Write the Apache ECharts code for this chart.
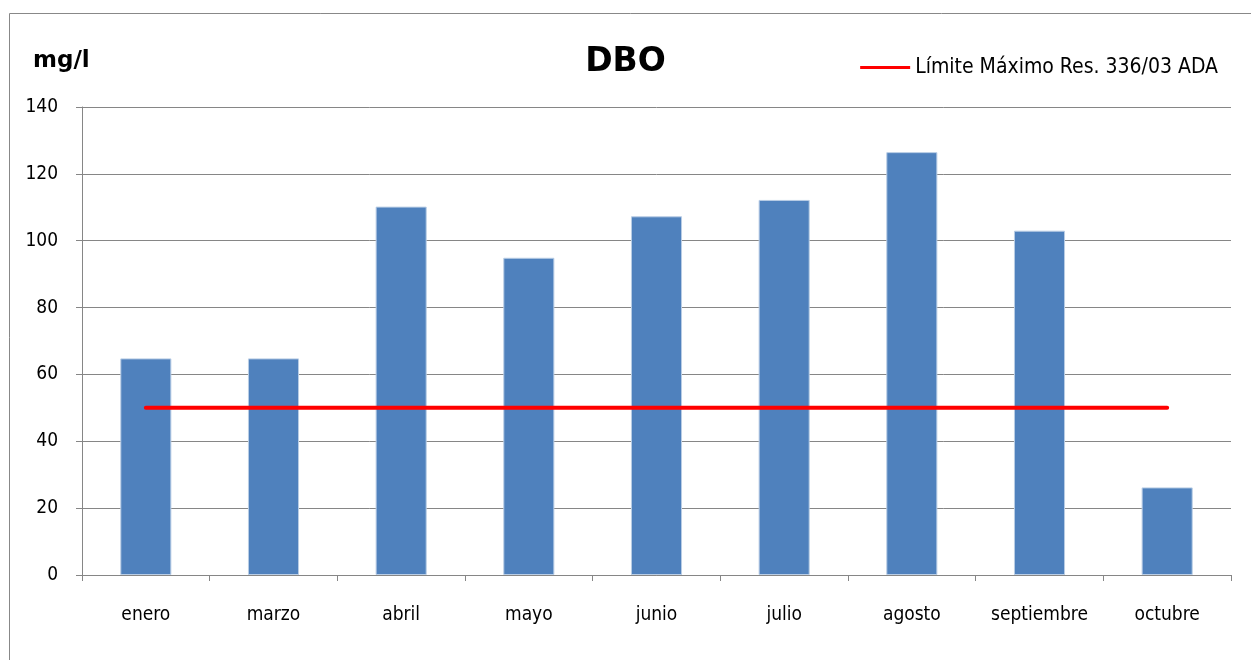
<!DOCTYPE html>
<html>
<head>
<meta charset="utf-8">
<script src="https://cdn.jsdelivr.net/npm/echarts@6/dist/echarts.min.js"></script>
<style>
  html, body { margin: 0; padding: 0; background: #fff; }
  #chart-container { width: 1251px; height: 660px; }
</style>
</head>
<body>
<div id="chart-container"></div>
<script>
// months and DBO values (mg/l)
var months = ['enero', 'marzo', 'abril', 'mayo', 'junio', 'julio', 'agosto', 'septiembre', 'octubre'];
var dboValues = [64.8, 64.8, 110.2, 94.9, 107.3, 112.2, 126.5, 103, 26.2];
// max limit Res. 336/03 ADA
var limitValues = [50, 50, 50, 50, 50, 50, 50, 50, 50];
var limitName = 'Límite Máximo Res. 336/03 ADA';

var dom = document.getElementById('chart-container');
var myChart = echarts.init(dom, null, { renderer: 'canvas' });

var font = '"DejaVu Sans Condensed", "DejaVu Sans"';
var boldFont = '"DejaVu Sans"';

var option = {
  animation: false,
  textStyle: { fontFamily: font },
  graphic: [
    {
      type: 'rect',
      shape: { x: 9.5, y: 13.5, width: 1260, height: 700 },
      style: { fill: 'none', stroke: '#888', lineWidth: 1 },
      silent: true
    },
    {
      type: 'text',
      left: 33, top: 50,
      style: { text: 'mg/l', font: 'bold 23px ' + boldFont, fill: '#000' }
    }
  ],
  title: {
    text: 'DBO',
    left: 'center',
    top: 41,
    textStyle: { fontFamily: boldFont, fontSize: 33, fontWeight: 'bold', color: '#000' }
  },
  legend: {
    right: 28,
    top: 52,
    itemWidth: 50,
    itemHeight: 3,
    itemGap: 4,
    data: [{ name: limitName, icon: 'rect' }],
    textStyle: { fontFamily: font, fontSize: 21, color: '#000', padding: [0, 0, 0, 0] }
  },
  grid: {
    left: 82,
    right: 20,
    top: 107,
    bottom: 85
  },
  xAxis: {
    type: 'category',
    data: months,
    axisLine: { lineStyle: { color: '#868686' } },
    axisTick: { show: true, length: 6, lineStyle: { color: '#868686' } },
    axisLabel: { color: '#000', fontSize: 19, margin: 31, fontFamily: font }
  },
  yAxis: {
    type: 'value',
    min: 0,
    max: 140,
    interval: 20,
    axisLine: { show: true, lineStyle: { color: '#868686' } },
    axisTick: { show: true, length: 6, lineStyle: { color: '#868686' } },
    splitLine: { lineStyle: { color: '#868686' } },
    axisLabel: { color: '#000', fontSize: 19, margin: 24, fontFamily: font }
  },
  series: [
    {
      name: 'DBO',
      type: 'bar',
      data: dboValues,
      barWidth: '40%',
      itemStyle: { color: '#4F81BD', borderColor: '#B9CDE5', borderWidth: 1 }
    },
    {
      name: limitName,
      type: 'line',
      data: limitValues,
      symbol: 'none',
      lineStyle: { color: '#FF0000', width: 4, cap: 'round' },
      itemStyle: { color: '#FF0000' }
    }
  ]
};

myChart.setOption(option);
window.addEventListener('resize', myChart.resize);
</script>
</body>
</html>
